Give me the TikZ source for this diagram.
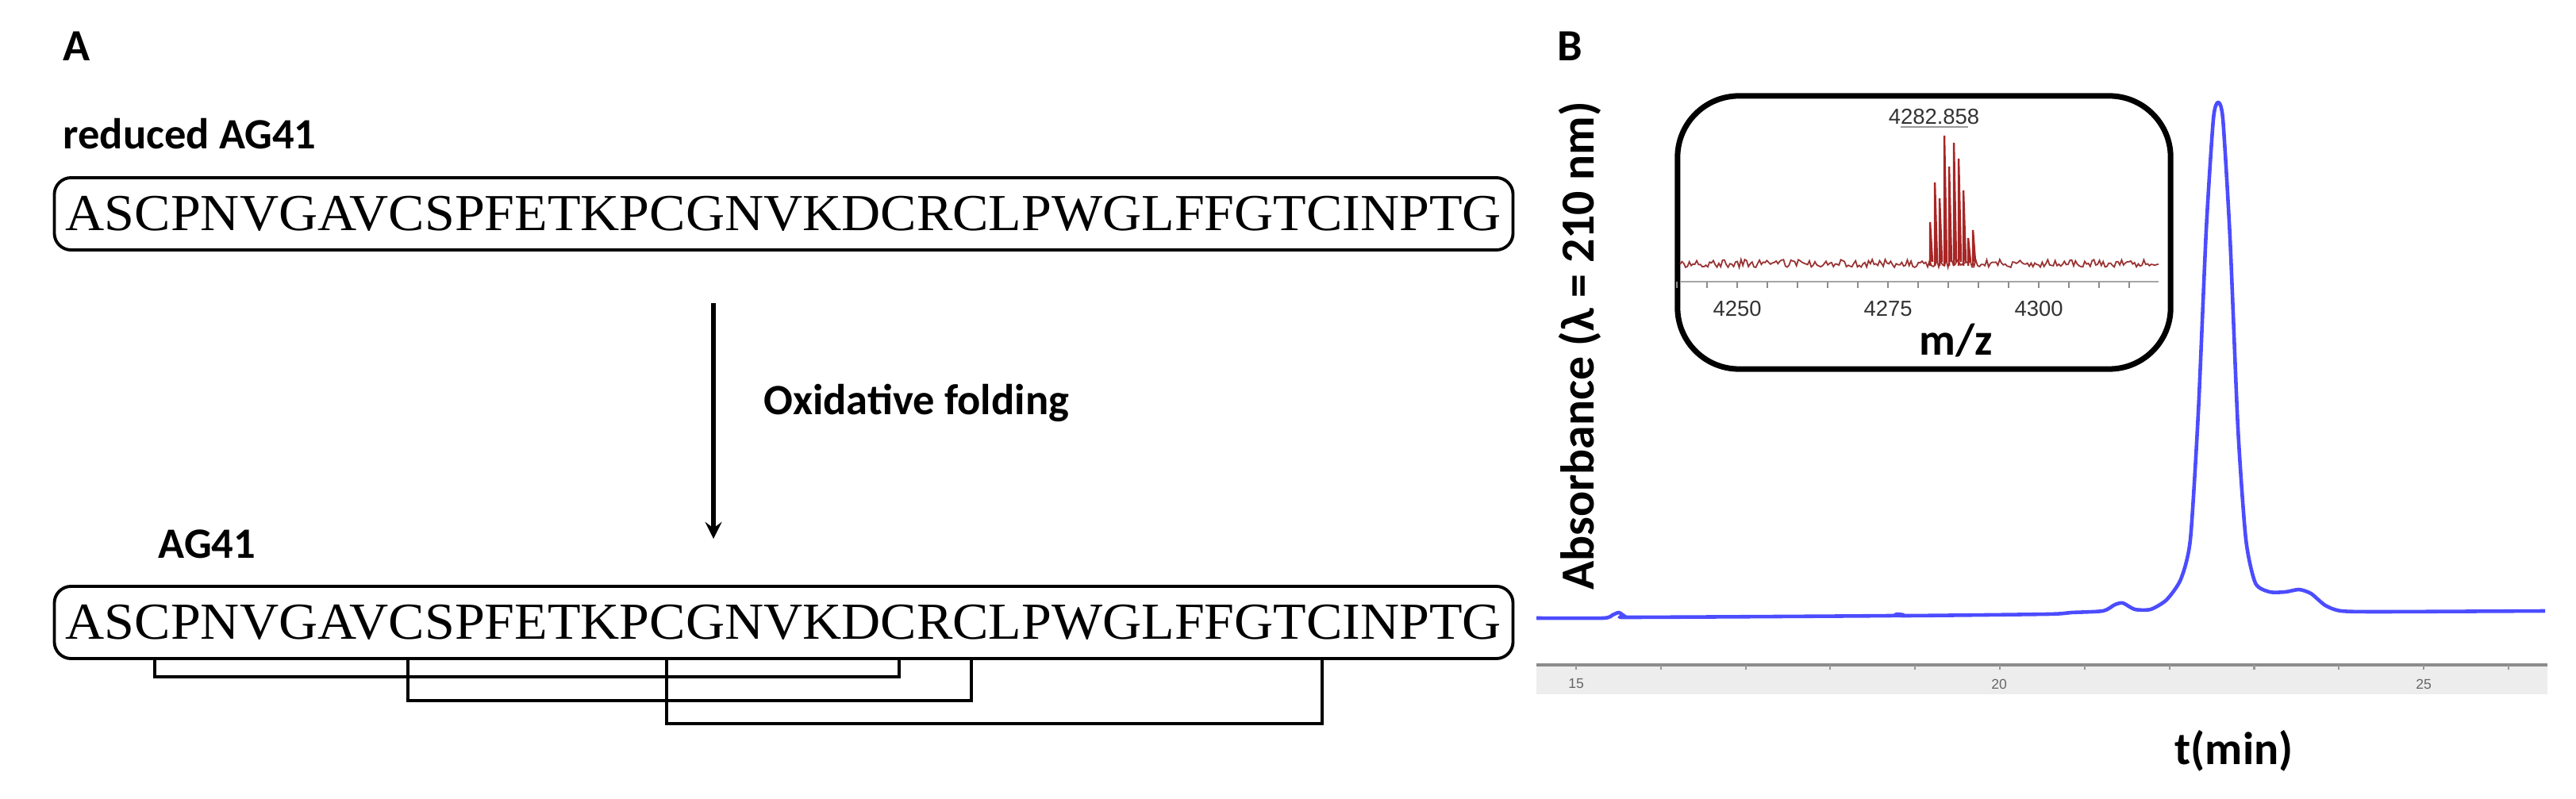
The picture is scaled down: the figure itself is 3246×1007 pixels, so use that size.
\documentclass[tikz,border=0pt]{standalone}
\usepackage{fontspec}
\setmainfont{Liberation Serif}
\newfontfamily\carlf{Carlito}
\newfontfamily\arsf{Liberation Sans}
\newcommand{\seqtext}{\scalebox{1.04}[1.0]{\fontsize{18.6}{19}\selectfont ASCPNVGAVCSPFETKPCGNVKDCRCLPWGLFFGTCINPTG}}
\begin{document}
\begin{tikzpicture}[x=0.01cm,y=-0.01cm,
  seqbox/.style={draw,rounded corners=6pt,line width=1.1pt,minimum width=18.37cm,minimum height=0.91cm,inner sep=0pt},
  lbl/.style={font=\carlf\bfseries\fontsize{15.5}{16}\selectfont,inner sep=0pt},
  bond/.style={line width=1pt},
  tk/.style={font=\arsf\fontsize{5}{5}\selectfont,text=black!60,inner sep=0pt},
  itk/.style={font=\arsf\fontsize{7.8}{8}\selectfont,text=black!80,inner sep=0pt}]
\useasboundingbox (0,0) rectangle (3246,1007);
% Panel A
\node[lbl,font=\carlf\bfseries\fontsize{16}{16}\selectfont] (A) at (97,58) {A};
\node[lbl,anchor=west] (red) at (79,169) {reduced AG41};
\node[seqbox] (s1) at (987.5,269.5) {\seqtext};
\coordinate (a1) at (899,382);
\coordinate (a2) at (899,679);
\draw[line width=1.6pt,-stealth] (a1) -- (a2);
\node[lbl,anchor=west] (ox) at (962,508) {Oxidative folding};
\node[lbl,anchor=west] (ag) at (199,686) {AG41};
\node[seqbox] (s2) at (987.5,784.5) {\seqtext};
\foreach \n/\xx in {c1/195,c2/514,c3/840,c4/1133,c5/1224,c6/1666}{\coordinate (\n) at (\xx,830);}
\draw[bond] (c1) -- ++(0,23) -| (c4);
\draw[bond] (c2) -- ++(0,53) -| (c5);
\draw[bond] (c3) -- ++(0,82) -| (c6);
% Panel B
\node[lbl,font=\carlf\bfseries\fontsize{16}{16}\selectfont] (B) at (1978,58) {B};
\node[lbl,rotate=90,font=\carlf\bfseries\fontsize{17}{17}\selectfont] (ylab) at (1991,436) {Absorbance (λ = 210 nm)};
\node[lbl,font=\carlf\bfseries\fontsize{16.5}{17}\selectfont] (xlab) at (2815,946) {t(min)};
\fill[black!7] (1936,838) rectangle (3210,875);
\draw[black!45,line width=1pt] (1936,838) -- (3210,838);
\foreach \t in {15,...,26}{\draw[black!40,line width=0.6pt] ({1986+(\t-15)*106.8},838) -- ++(0,6);}
\node[tk] (t15) at (1986,862) {15};
\node[tk] (t20) at (2519,862) {20};
\node[tk] (t25) at (3054,862) {25};
\draw[blue!70!white,line width=1.3pt,line join=round] plot[smooth,tension=0.4] coordinates {
(1936,779) (2020,779) (2032,775) (2040,772) (2048,777) (2060,778) (2380,776) (2390,774) (2400,776) (2580,774) (2610,772) (2650,770) (2665,762) (2675,760) (2690,768) (2710,768) (2730,756) (2748,730) (2760,680) (2770,520) (2780,290) (2789,150) (2795,129) (2801,150) (2810,300) (2820,540) (2830,680) (2842,735) (2860,746) (2880,746) (2897,743) (2912,748) (2930,763) (2950,770) (3000,771) (3207,770)};
% inset
\node[draw,line width=2pt,rounded corners=22pt,minimum width=6.21cm,minimum height=3.44cm] (ins) at (2424.5,293) {};
\draw[black!35,line width=0.7pt] (2117,355) -- (2720,355);
\foreach \m in {4240,4245,...,4315}{\draw[black!45,line width=0.6pt] ({2189+(\m-4250)*7.6},355) -- ++(0,8);}
\node[itk] (m1) at (2189,389) {4250};
\node[itk] (m2) at (2379,389) {4275};
\node[itk] (m3) at (2569,389) {4300};
\node[lbl,font=\carlf\bfseries\fontsize{16}{16}\selectfont] (mz) at (2465,429) {m/z};
\node[itk] (pk) at (2437,147) {4282.858};
\draw[black!40,line width=0.5pt] (2395,160) -- (2480,160);
\pgfmathsetseed{7}
\draw[red!50!black!80!white,line width=0.5pt] plot[domain=2117:2720,samples=260] (\x,{332+5*rand});
\foreach \px/\py in {2432/280,2438/230,2444/250,2450/171,2456/210,2462/180,2468/200,2474/240,2480/300,2486/290}{
  \draw[red!60!black!85!white,line width=0.7pt] (\px,335) -- (\px,\py) -- ({\px+3},330);}
\end{tikzpicture}
\end{document}
